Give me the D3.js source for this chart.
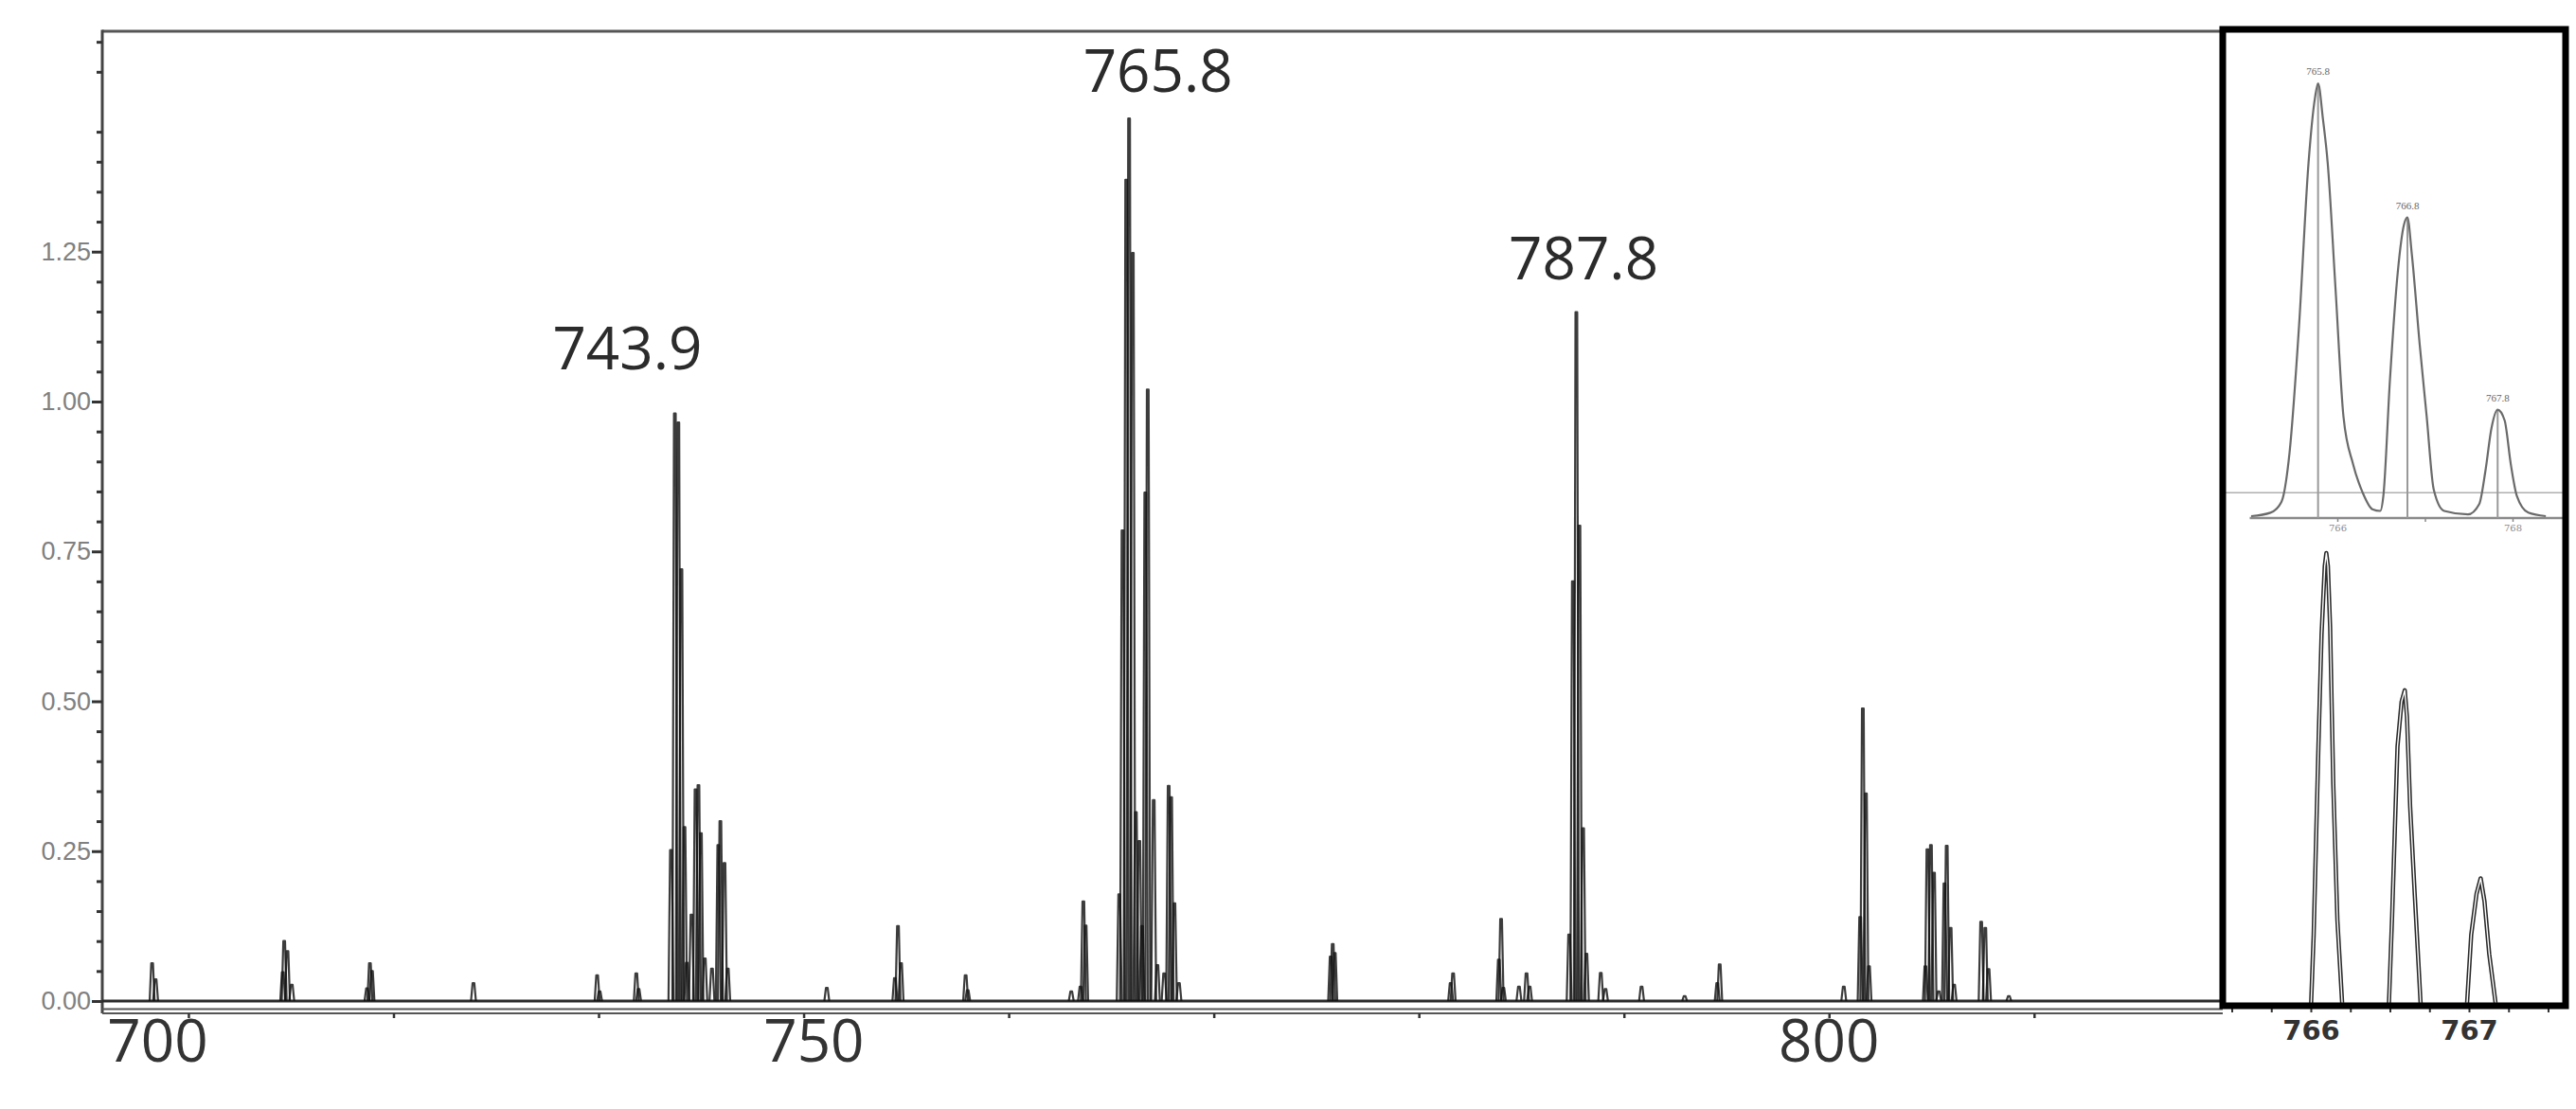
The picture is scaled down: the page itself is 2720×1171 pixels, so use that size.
<!DOCTYPE html>
<html>
<head>
<meta charset="utf-8">
<script src="https://cdn.jsdelivr.net/npm/d3@7"></script>
<style>
  body { margin: 0; background: #fff; }
  svg { display: block; }
</style>
</head>
<body>
<div id="spectrum"></div>
<script>
// full spectrum, read as sticks: m/z and relative intensity
var mainMz = [
    718.23, 718.40,
    724.60, 724.67, 724.83, 725.04,
    728.71, 728.85, 728.95,
    733.90,
    739.93, 740.05,
    741.84, 741.95,
    743.53, 743.72, 743.89, 744.04, 744.19, 744.30, 744.53, 744.73, 744.87, 744.99,
    745.18, 745.53, 745.84, 745.94, 746.14, 746.30,
    751.13,
    754.45, 754.60, 754.75,
    757.90, 758.00,
    763.05, 763.50, 763.64, 763.75,
    765.39, 765.55, 765.73, 765.87, 766.05, 766.20, 766.37, 766.50, 766.66, 766.78,
    767.07, 767.25, 767.58, 767.80, 767.92, 768.08, 768.30,
    775.70, 775.80, 775.90,
    781.55, 781.67,
    783.90, 784.01, 784.12, 784.88, 785.25, 785.40,
    787.33, 787.51, 787.68, 787.83, 788.01, 788.17, 788.87, 789.10,
    790.86, 792.96, 794.55, 794.67,
    800.72, 801.52, 801.65, 801.80, 801.95,
    804.70, 804.80, 804.97, 805.12, 805.35, 805.63, 805.74, 805.93, 806.10,
    807.42, 807.62, 807.78, 808.77
];
var mainInt = [
    0.063, 0.036,
    0.048, 0.100, 0.083, 0.027,
    0.021, 0.063, 0.050,
    0.030,
    0.043, 0.016,
    0.046, 0.020,
    0.252, 0.980, 0.965, 0.720, 0.290, 0.064, 0.144, 0.353, 0.360, 0.280,
    0.071, 0.054, 0.260, 0.300, 0.230, 0.054,
    0.022,
    0.038, 0.125, 0.063,
    0.043, 0.018,
    0.016, 0.024, 0.166, 0.126,
    0.178, 0.785, 1.370, 1.472, 1.248, 0.315, 0.267, 0.125, 0.848, 1.020,
    0.335, 0.060, 0.046, 0.359, 0.340, 0.163, 0.030,
    0.074, 0.095, 0.080,
    0.030, 0.046,
    0.069, 0.137, 0.022, 0.024, 0.046, 0.024,
    0.111, 0.700, 1.149, 0.793, 0.288, 0.079, 0.047, 0.020,
    0.024, 0.008, 0.030, 0.061,
    0.024, 0.140, 0.488, 0.346, 0.058,
    0.058, 0.253, 0.260, 0.214, 0.016, 0.196, 0.259, 0.122, 0.027,
    0.132, 0.122, 0.053, 0.008
];

var yTicks = [0, 0.25, 0.5, 0.75, 1.0, 1.25];
var xTicks = [720, 730, 740, 750, 760, 770, 780, 790, 800, 810];
var xLabelMz = [718.5, 750.5, 800];
var xLabelText = ["700", "750", "800"];

var peakMz = [743.9, 765.8, 787.8];
var peakInt = [0.98, 1.472, 1.149];
var peakText = ["743.9", "765.8", "787.8"];

// upper inset: zoomed profile of the 765.8 cluster
var zoomMz = [765.016, 765.236, 765.362, 765.454, 765.563, 765.671, 765.745, 765.78, 765.836, 765.89,
    765.98, 766.07, 766.18, 766.29, 766.40, 766.49, 766.525, 766.60, 766.69, 766.76, 766.80, 766.85,
    766.94, 767.02, 767.10, 767.22, 767.49, 767.62, 767.69, 767.76, 767.83, 767.91, 767.98, 768.05,
    768.18, 768.38];
var zoomInt = [0, 0.008, 0.033, 0.146, 0.44, 0.816, 0.967, 1.0, 0.917, 0.816,
    0.523, 0.23, 0.12, 0.054, 0.016, 0.012, 0.046, 0.313, 0.564, 0.673, 0.69, 0.606,
    0.397, 0.23, 0.062, 0.012, 0.004, 0.028, 0.104, 0.204, 0.246, 0.221, 0.12, 0.046,
    0.008, 0];
var zoomStickMz = [765.78, 766.8, 767.83];
var zoomStickInt = [1.0, 0.69, 0.246];
var zoomStickText = ["765.8", "766.8", "767.8"];
var zoomTicks = [766, 767, 768];
var zoomTickText = ["766", "", "768"];
var zoomThreshold = 0.054;

// lower inset: high resolution profile, one list per peak
var hiresMz = [
    [766.002, 766.018, 766.048, 766.068, 766.088, 766.098, 766.108, 766.122, 766.142, 766.168, 766.198],
    [766.494, 766.514, 766.548, 766.574, 766.594, 766.608, 766.628, 766.658, 766.694],
    [766.988, 767.014, 767.048, 767.074, 767.098, 767.128, 767.168]
];
var hiresInt = [
    [0, 0.151, 0.57, 0.82, 0.971, 1.0, 0.971, 0.837, 0.486, 0.184, 0],
    [0, 0.193, 0.57, 0.67, 0.695, 0.636, 0.436, 0.235, 0],
    [0, 0.151, 0.243, 0.277, 0.226, 0.109, 0]
];
var hiresTicks = [765.5, 765.75, 766, 766.25, 766.5, 766.75, 767, 767.25, 767.5];
var hiresTickText = ["", "", "766", "", "", "", "767", "", ""];

var plotLeft = 108, plotRight = 2347, plotTop = 31.5, baseY = 1057, axisY = 1068;
var boxLeft = 2347, boxRight = 2709, boxTop = 31, boxBottom = 1062;

var svg = d3
    .select("#spectrum")
    .append("svg")
    .attr("width", 2720)
    .attr("height", 1171)
    .style("background", "#fff");

var x = d3.scaleLinear().domain([715.8, 819.2]).range([plotLeft, plotRight]);
var y = d3.scaleLinear().domain([0, 1.62]).range([baseY, plotTop]);

// frame: top border, y axis line, doubled x axis line
svg.append("line")
    .attr("x1", plotLeft).attr("x2", plotRight)
    .attr("y1", 33).attr("y2", 33)
    .attr("stroke", "#555").attr("stroke-width", 3);

svg.append("line")
    .attr("x1", plotLeft).attr("x2", plotLeft)
    .attr("y1", 31.5).attr("y2", axisY + 2)
    .attr("stroke", "#444").attr("stroke-width", 3);

[axisY - 2.5, axisY + 2].forEach(function (yy) {
    svg.append("line")
        .attr("x1", plotLeft).attr("x2", plotRight)
        .attr("y1", yy).attr("y2", yy)
        .attr("stroke", "#555").attr("stroke-width", 2);
});

// y axis ticks
var yAxis = svg.append("g")
    .attr("transform", "translate(" + plotLeft + ",0)")
    .call(d3.axisLeft(y).tickValues(yTicks).tickSize(11).tickPadding(1).tickFormat(d3.format(".2f")));
yAxis.select(".domain").remove();
yAxis.selectAll("line").attr("stroke", "#333").attr("stroke-width", 3);
yAxis.selectAll("text")
    .attr("fill", "#808080")
    .style("font-family", "Arial, 'Liberation Sans', sans-serif")
    .style("font-size", "27px");

var minor = d3.range(0.05, 1.61, 0.05).filter(function (d) {
    return Math.abs(d / 0.25 - Math.round(d / 0.25)) > 0.01;
});
var yMinor = svg.append("g")
    .attr("transform", "translate(" + plotLeft + ",0)")
    .call(d3.axisLeft(y).tickValues(minor).tickSize(6).tickFormat(""));
yMinor.select(".domain").remove();
yMinor.selectAll("line").attr("stroke", "#333").attr("stroke-width", 3);

// x axis ticks (small marks under the axis line)
var xAxis = svg.append("g")
    .attr("transform", "translate(0," + (axisY + 2) + ")")
    .call(d3.axisBottom(x).tickValues(xTicks).tickSize(5).tickFormat(""));
xAxis.select(".domain").remove();
xAxis.selectAll("line").attr("stroke", "#333").attr("stroke-width", 2.5);

svg.append("g")
    .selectAll("text")
    .data(xLabelMz)
    .enter()
    .append("text")
    .attr("x", function (d) { return x(d); })
    .attr("y", 1121)
    .attr("text-anchor", "middle")
    .attr("fill", "#333")
    .style("font-family", "'Open Sans', sans-serif")
    .style("font-size", "62px")
    .text(function (d, i) { return xLabelText[i]; });

// baseline and sticks
svg.append("line")
    .attr("x1", plotLeft).attr("x2", plotRight)
    .attr("y1", y(0)).attr("y2", y(0))
    .attr("stroke", "#2a2a2a").attr("stroke-width", 2.8);

var baseHw = 2.6, topHw = 0.9;
var stick = d3.line();
svg.append("g")
    .selectAll("path")
    .data(mainMz)
    .enter()
    .append("path")
    .attr("d", function (d, i) {
        var cx = x(d);
        return stick([[cx - baseHw, y(0)], [cx - topHw, y(mainInt[i])], [cx + topHw, y(mainInt[i])], [cx + baseHw, y(0)]]);
    })
    .attr("fill", "none")
    .attr("stroke", "#111")
    .attr("stroke-opacity", 0.82)
    .attr("stroke-width", 2.2)
    .attr("stroke-linejoin", "round");

// peak labels
var labelDx = [-54, 32, 5];
var labelDy = [47, 28, 35];
svg.append("g")
    .selectAll("text")
    .data(peakMz)
    .enter()
    .append("text")
    .attr("x", function (d, i) { return x(d) + labelDx[i]; })
    .attr("y", function (d, i) { return y(peakInt[i]) - labelDy[i]; })
    .attr("text-anchor", "middle")
    .attr("fill", "#2b2b2b")
    .style("font-family", "'Open Sans', sans-serif")
    .style("font-size", "62px")
    .text(function (d, i) { return peakText[i]; });

// inset box
svg.append("rect")
    .attr("x", boxLeft).attr("y", boxTop)
    .attr("width", boxRight - boxLeft).attr("height", boxBottom - boxTop)
    .attr("fill", "#fff");

// upper inset
var zx = d3.scaleLinear().domain([766, 768]).range([2468, 2653]);
var zy = d3.scaleLinear().domain([0, 1]).range([545, 88]);

svg.append("line")
    .attr("x1", boxLeft + 3).attr("x2", boxRight - 3)
    .attr("y1", zy(zoomThreshold)).attr("y2", zy(zoomThreshold))
    .attr("stroke", "#b0b0b0").attr("stroke-width", 1.6);

svg.append("line")
    .attr("x1", zx(765.0)).attr("x2", boxRight - 3)
    .attr("y1", 547).attr("y2", 547)
    .attr("stroke", "#8a8a8a").attr("stroke-width", 2.5);

var zAxis = svg.append("g")
    .attr("transform", "translate(0,547)")
    .call(d3.axisBottom(zx).tickValues(zoomTicks).tickSize(4).tickPadding(3)
        .tickFormat(function (d, i) { return zoomTickText[i]; }));
zAxis.select(".domain").remove();
zAxis.selectAll("line").attr("stroke", "#888").attr("stroke-width", 1.5);
zAxis.selectAll("text")
    .attr("fill", "#8a8a8a")
    .style("font-family", "'DejaVu Serif', 'Liberation Serif', serif")
    .style("font-size", "10px");

svg.append("g")
    .selectAll("line")
    .data(zoomStickMz)
    .enter()
    .append("line")
    .attr("x1", function (d) { return zx(d); })
    .attr("x2", function (d) { return zx(d); })
    .attr("y1", 547)
    .attr("y2", function (d, i) { return zy(zoomStickInt[i]); })
    .attr("stroke", "#999")
    .attr("stroke-width", 2);

svg.append("path")
    .datum(zoomMz)
    .attr("d", d3.line()
        .x(function (d) { return zx(d); })
        .y(function (d, i) { return zy(zoomInt[i]); })
        .curve(d3.curveMonotoneX))
    .attr("fill", "none")
    .attr("stroke", "#6a6a6a")
    .attr("stroke-width", 2.2);

svg.append("g")
    .selectAll("text")
    .data(zoomStickMz)
    .enter()
    .append("text")
    .attr("x", function (d) { return zx(d); })
    .attr("y", function (d, i) { return zy(zoomStickInt[i]) - 9; })
    .attr("text-anchor", "middle")
    .attr("fill", "#666")
    .style("font-family", "'Liberation Serif', serif")
    .style("font-size", "11px")
    .text(function (d, i) { return zoomStickText[i]; });

// lower inset
var hx = d3.scaleLinear().domain([766, 767]).range([2440, 2607]);
var hy = d3.scaleLinear().domain([0, 1]).range([1059, 584]);

hiresMz.forEach(function (mzs, k) {
    var peakLine = d3.line()
        .x(function (d) { return hx(d); })
        .y(function (d, i) { return hy(hiresInt[k][i]); });
    svg.append("path")
        .datum(mzs)
        .attr("d", peakLine)
        .attr("fill", "none")
        .attr("stroke", "#2a2a2a")
        .attr("stroke-width", 4.5)
        .attr("stroke-linejoin", "round");
    svg.append("path")
        .datum(mzs)
        .attr("d", peakLine)
        .attr("fill", "none")
        .attr("stroke", "#fff")
        .attr("stroke-width", 1.4)
        .attr("stroke-linejoin", "round");
});

var hAxis = svg.append("g")
    .attr("transform", "translate(0," + (boxBottom + 3) + ")")
    .call(d3.axisBottom(hx).tickValues(hiresTicks).tickSize(4).tickPadding(8)
        .tickFormat(function (d, i) { return hiresTickText[i]; }));
hAxis.select(".domain").remove();
hAxis.selectAll("line").attr("stroke", "#333").attr("stroke-width", 2);
hAxis.selectAll("text")
    .attr("fill", "#333")
    .style("font-family", "'DejaVu Sans', Arial, sans-serif")
    .style("font-weight", "bold")
    .style("font-size", "29px");

svg.append("rect")
    .attr("x", boxLeft).attr("y", boxTop)
    .attr("width", boxRight - boxLeft).attr("height", boxBottom - boxTop)
    .attr("fill", "none")
    .attr("stroke", "#000")
    .attr("stroke-width", 7);
</script>
</body>
</html>
